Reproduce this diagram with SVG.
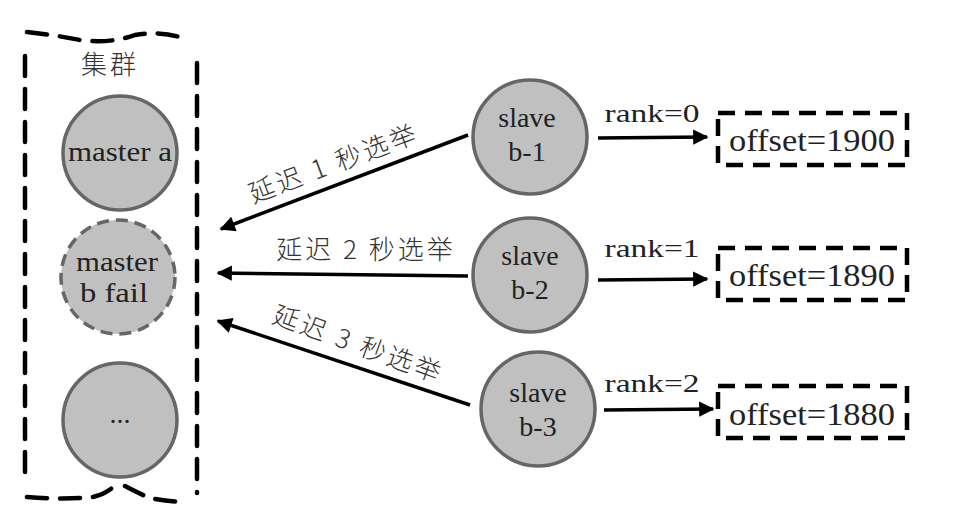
<svg xmlns="http://www.w3.org/2000/svg" width="978" height="524" viewBox="0 0 978 524">
<defs>
<marker id="ah" viewBox="0 0 10 10" refX="9" refY="5" markerWidth="5.5" markerHeight="4.4" orient="auto" markerUnits="strokeWidth">
<path d="M0,0 L10,5 L0,10 Z" fill="#000"/>
</marker>
<style>
.cl{fill:none;stroke:#000;stroke-width:4.5;stroke-dasharray:20 13;stroke-linecap:round}
.node{fill:#c0c0c0;stroke:#666;stroke-width:3.5}
.fail{fill:#c0c0c0;stroke:#666;stroke-width:3.5;stroke-dasharray:12 7}
.box{fill:none;stroke:#000;stroke-width:4.5;stroke-dasharray:17 10}
.t{font-family:"Liberation Serif","Times New Roman",serif;font-size:28px;fill:#222;text-anchor:middle}
.cn{font-family:"Noto Sans CJK SC",sans-serif;font-size:26px;fill:#333;font-weight:300;letter-spacing:3px;text-anchor:middle}
.conn{stroke:#000;stroke-width:3.5;fill:none;marker-end:url(#ah)}
</style>
</defs>
<rect width="978" height="524" fill="#fff"/>
<g id="cluster">
<path class="cl" d="M27,32 Q55,35 80,40 Q110,44 135,35 Q165,30 187,40 M197,63 L197,493 M25,56 L25,485 M27,497 Q65,500 93,497 Q105,494 112,488 M125,486 Q140,494 150,498 Q165,501 180,502"/>
<text class="cn" x="110" y="74" font-size="23">集群</text>
</g>
<g id="master-a">
<circle class="node" cx="120" cy="153" r="57"/>
<text class="t" x="120" y="161" textLength="104" lengthAdjust="spacingAndGlyphs">master a</text>
</g>
<g id="master-b">
<circle class="fail" cx="118" cy="277" r="57"/>
<text class="t" x="117" y="271" textLength="82" lengthAdjust="spacingAndGlyphs">master</text>
<text class="t" x="114" y="302" textLength="68" lengthAdjust="spacingAndGlyphs">b fail</text>
</g>
<g id="master-etc">
<circle class="node" cx="120" cy="420" r="57"/>
<text class="t" x="120" y="423">...</text>
</g>
<g id="slave-b1">
<circle class="node" cx="530" cy="137" r="57"/>
<text class="t" x="527" y="127">slave</text>
<text class="t" x="527" y="161">b-1</text>
</g>
<g id="slave-b2">
<circle class="node" cx="530" cy="275" r="57"/>
<text class="t" x="530" y="265">slave</text>
<text class="t" x="530" y="299">b-2</text>
</g>
<g id="slave-b3">
<circle class="node" cx="538" cy="409" r="57"/>
<text class="t" x="538" y="402">slave</text>
<text class="t" x="538" y="436">b-3</text>
</g>
<g id="offset-1">
<rect class="box" x="718" y="113" width="189" height="52"/>
<text class="t" x="812" y="151" font-size="32" style="font-size:32px" textLength="166" lengthAdjust="spacingAndGlyphs">offset=1900</text>
</g>
<g id="offset-2">
<rect class="box" x="718" y="248" width="189" height="52"/>
<text class="t" x="812" y="286" style="font-size:32px" textLength="166" lengthAdjust="spacingAndGlyphs">offset=1890</text>
</g>
<g id="offset-3">
<rect class="box" x="718" y="386" width="189" height="52"/>
<text class="t" x="812" y="425" style="font-size:32px" textLength="166" lengthAdjust="spacingAndGlyphs">offset=1880</text>
</g>
<g id="connectors">
<line class="conn" x1="468" y1="135" x2="221" y2="229"/>
<line class="conn" x1="468" y1="276" x2="218" y2="273"/>
<line class="conn" x1="470" y1="405" x2="218" y2="321"/>
<line class="conn" x1="598" y1="138" x2="707" y2="137"/>
<line class="conn" x1="598" y1="280" x2="707" y2="279"/>
<line class="conn" x1="604" y1="410" x2="713" y2="409"/>
<text class="t" x="652" y="122" style="font-size:26px" textLength="95" lengthAdjust="spacingAndGlyphs">rank=0</text>
<text class="t" x="652" y="257" style="font-size:26px" textLength="95" lengthAdjust="spacingAndGlyphs">rank=1</text>
<text class="t" x="652" y="392" style="font-size:26px" textLength="95" lengthAdjust="spacingAndGlyphs">rank=2</text>
<text class="cn" transform="translate(337,172) rotate(-20.6)">延迟 1 秒选举</text>
<text class="cn" x="366" y="259">延迟 2 秒选举</text>
<text class="cn" transform="translate(355,353) rotate(20)">延迟 3 秒选举</text>
</g>
</svg>
